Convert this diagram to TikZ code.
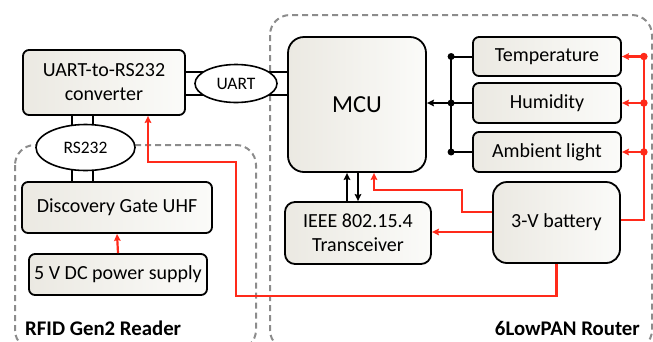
\documentclass[tikz,border=0pt]{standalone}
\usepackage{fontspec}
\setmainfont{Carlito}
\usetikzlibrary{arrows.meta,shapes.geometric,calc}
\definecolor{boxfill}{HTML}{EBE9E2}
\definecolor{boxfillB}{HTML}{FBFBF9}
\definecolor{pwr}{HTML}{FF2A1A}
\definecolor{dashgray}{HTML}{8C8C8C}
\begin{document}
\begin{tikzpicture}[x=1pt,y=-1pt,
  blk/.style={draw=black,line width=1.8pt,rounded corners=6pt,left color=boxfill,right color=boxfillB,
    inner sep=0pt,align=center,font=\fontsize{20}{24}\selectfont},
  ell/.style={draw=black,line width=1.6pt,ellipse,fill=white,inner sep=0pt,font=\fontsize{17.5}{20}\selectfont},
  group/.style={draw=dashgray,line width=2pt,dash pattern=on 6pt off 4pt,rounded corners=20pt},
  bus/.style={draw=black,line width=2pt},
  pline/.style={draw=pwr,line width=2.2pt},
  tip/.style={-{Stealth[length=7pt,width=6.5pt,inset=1pt]}},
  bdot/.style={circle,fill=black,inner sep=0pt,minimum size=7pt},
  rdot/.style={circle,fill=pwr,inner sep=0pt,minimum size=7.5pt},
  grp/.style={font=\fontsize{20.8}{24}\selectfont\bfseries,inner sep=0pt}]
\useasboundingbox (0,0) rectangle (653,341);
\clip (0,0) rectangle (653,341);
% group frames
\draw[group] (15,145) rectangle (256,350);
\draw[group] (270,15) rectangle (652,350);
\node[grp,anchor=west] (lblr) at (25,328) {RFID Gen2 Reader};
\node[grp,anchor=east] (lblw) at (640,328) {6LowPAN Router};
% blocks
\node[blk,minimum width=162pt,minimum height=65pt] (conv) at (104,82.5) {UART-to-RS232\\converter};
\node[blk,minimum width=190pt,minimum height=51pt] (dg) at (117,207.5) {Discovery Gate UHF};
\node[blk,minimum width=178pt,minimum height=41pt] (ps) at (118,274.5) {5 V DC power supply};
\node[blk,rounded corners=16pt,minimum width=138pt,minimum height=135pt,font=\fontsize{24.5}{28}\selectfont] (mcu) at (357,104.5) {MCU};
\node[blk,minimum width=148pt,minimum height=39pt] (temp) at (547,56.5) {Temperature};
\node[blk,minimum width=148pt,minimum height=40pt] (hum) at (547,103) {Humidity};
\node[blk,minimum width=148pt,minimum height=40pt] (amb) at (547,152) {Ambient light};
\node[blk,rounded corners=14pt,minimum width=127pt,minimum height=81pt] (bat) at (556.5,222.5) {3-V battery};
\node[blk,rounded corners=10pt,minimum width=146pt,minimum height=62pt] (trx) at (358,233) {IEEE 802.15.4\\Transceiver};
% UART links
\draw[bus] ([yshift=10.5pt]conv.east) -- ([yshift=10.5pt]conv.east -| mcu.west);
\draw[bus] ([yshift=-12.5pt]conv.east) -- ([yshift=-12.5pt]conv.east -| mcu.west);
\node[ell,minimum width=82pt,minimum height=38pt] (uart) at (236,83.5) {UART};
% RS232 links
\draw[bus] ([xshift=-32pt]conv.south) -- ([xshift=-32pt]conv.south |- dg.north);
\draw[bus] ([xshift=-11pt]conv.south) -- ([xshift=-11pt]conv.south |- dg.north);
\node[ell,minimum width=99pt,minimum height=46pt] (rs) at (85.5,147.5) {RS232};
% sensor bus
\coordinate (b1) at ([xshift=-21pt]temp.west);
\coordinate (b2) at ([xshift=-21pt]hum.west);
\coordinate (b3) at ([xshift=-21pt]amb.west);
\draw[bus] (temp.west) -- (b1) -- (b3) -- (amb.west);
\draw[bus] (hum.west) -- (b2);
\draw[bus,tip] (b2) -- (b2 -| mcu.east);
\node[bdot] (d1) at (b1) {};
\node[bdot] (d2) at (b2) {};
\node[bdot] (d3) at (b3) {};
% MCU - transceiver
\draw[bus,tip] ([xshift=-11pt]trx.north) -- ([xshift=-11pt]trx.north |- mcu.south);
\draw[bus,tip] (trx.north |- mcu.south) -- (trx.north);
% power bus
\coordinate (r1) at ([xshift=22pt]temp.east);
\coordinate (r2) at ([xshift=22pt]hum.east);
\coordinate (r3) at ([xshift=22pt]amb.east);
\coordinate (r4) at ([yshift=2.5pt]r1 |- bat.east);
\draw[pline] (r1) -- (r4) -- (r4 -| bat.east);
\draw[pline,tip] (r1) -- (temp.east);
\draw[pline,tip] (r2) -- (hum.east);
\draw[pline,tip] (r3) -- (amb.east);
\node[rdot] (e1) at (r1) {};
\node[rdot] (e2) at (r2) {};
\node[rdot] (e3) at (r3) {};
\coordinate (k1) at (462,190);
\draw[pline,tip] ([yshift=10.5pt]bat.west) -| (k1) -| ([xshift=17pt]mcu.south);
\draw[pline,tip] ([yshift=-9.5pt]bat.west) -- ([yshift=-9.5pt]bat.west -| trx.east);
\coordinate (k2) at (236,296);
\coordinate (k3) at (148,162);
\draw[pline,tip] (bat.south) |- (k2) |- (k3) -- (k3 |- conv.south);
\draw[pline,tip] (ps.north) -- (dg.south);
\end{tikzpicture}
\end{document}
